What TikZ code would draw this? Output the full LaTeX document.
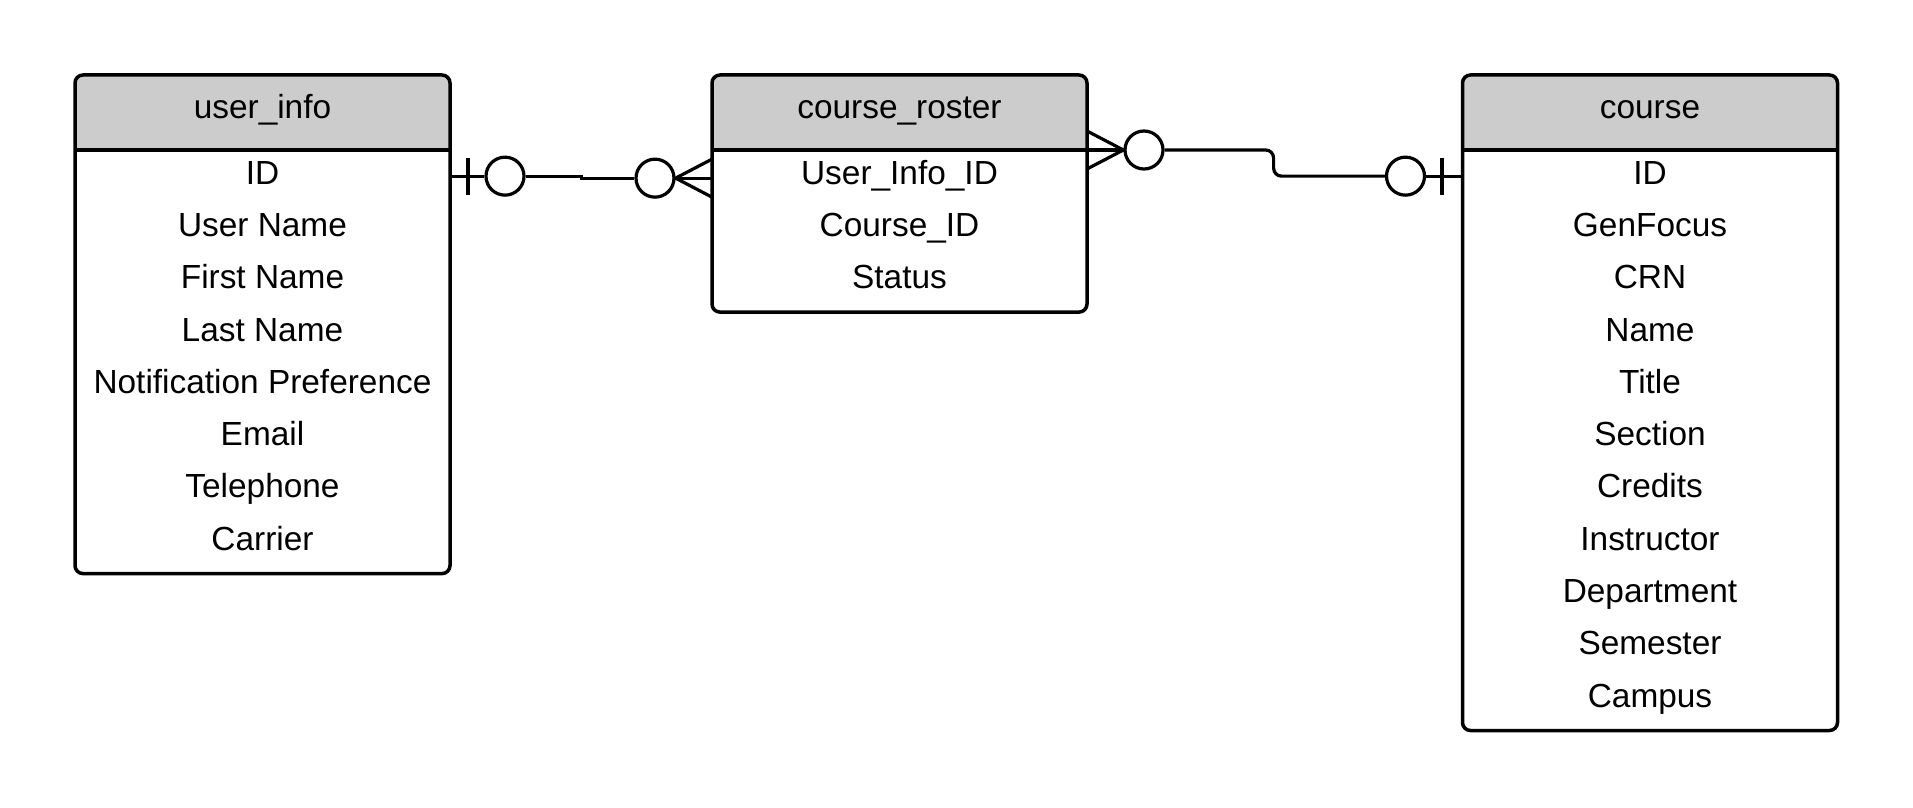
\documentclass[tikz,border=0pt]{standalone}
\usepackage{fontspec}
\setmainfont{Liberation Sans}
\usetikzlibrary{backgrounds}
\definecolor{headgray}{RGB}{204,204,204}

\begin{document}
\begin{tikzpicture}[
      x=0.5pt, y=-0.5pt,
      entity head/.style={
         rectangle,
         minimum width=187.5pt,
         minimum height=37.5pt,
         inner sep=0pt,
         font=\fontsize{16.7}{20}\selectfont,
         text height=12pt,
         text depth=5.9pt
      },
      attribute/.style={
         entity head,
         minimum height=26.15pt,
         text depth=4pt
      },
      entity/.style={
         matrix,
         inner sep=0pt,
         outer sep=0pt,
         row sep=0pt,
         anchor=north
      },
      entity line/.style={draw=black, line width=1.75pt},
      relation/.style={draw=black, line width=1.6pt},
      optional/.style={
         circle,
         draw=black,
         line width=1.6pt,
         inner sep=0pt,
         minimum size=19pt
      }
    ]
    \useasboundingbox (0,0) rectangle (1913,808);
    \matrix (userinfo) [entity] at (262.5,75) {
\node (ui0) [entity head] {user\_info}; \\
\node (ui1) [attribute] {ID}; \\
\node (ui2) [attribute] {User Name}; \\
\node (ui3) [attribute] {First Name}; \\
\node (ui4) [attribute] {Last Name}; \\
\node (ui5) [attribute] {Notification Preference}; \\
\node (ui6) [attribute] {Email}; \\
\node (ui7) [attribute] {Telephone}; \\
\node (ui8) [attribute] {Carrier}; \\
    };
    \matrix (roster) [entity] at (899.5,75) {
\node (cr0) [entity head] {course\_roster}; \\
\node (cr1) [attribute] {User\_Info\_ID}; \\
\node (cr2) [attribute] {Course\_ID}; \\
\node (cr3) [attribute] {Status}; \\
    };
    \matrix (course) [entity] at (1650,75) {
\node (co0) [entity head] {course}; \\
\node (co1) [attribute] {ID}; \\
\node (co2) [attribute] {GenFocus}; \\
\node (co3) [attribute] {CRN}; \\
\node (co4) [attribute] {Name}; \\
\node (co5) [attribute] {Title}; \\
\node (co6) [attribute] {Section}; \\
\node (co7) [attribute] {Credits}; \\
\node (co8) [attribute] {Instructor}; \\
\node (co9) [attribute] {Department}; \\
\node (co10) [attribute] {Semester}; \\
\node (co11) [attribute] {Campus}; \\
    };
  % header fill and table frames
  \foreach \h/\l in {ui0/ui8, cr0/cr3, co0/co11} {
    \begin{scope}[on background layer]
      \fill[headgray] (\h.south west) -- ([yshift=-4pt]\h.north west)
        arc[start angle=180, end angle=90, radius=4pt]
        -- ([xshift=-4pt]\h.north east)
        arc[start angle=90, end angle=0, radius=4pt]
        -- (\h.south east) -- cycle;
    \end{scope}
    \draw[entity line] (\h.south west) -- (\h.south east);
    \draw[entity line, rounded corners=4pt] (\h.north west) rectangle ([yshift=-2.6pt]\l.south east);
  }
  % user_info -- course_roster
  \node (o1) [optional] at ([xshift=27.5pt]ui1.east) {};
  \coordinate (b1) at ([xshift=9pt]ui1.east);
  \draw[relation] (ui1.east) -- (o1);
  \draw[relation] ([yshift=9.25pt]b1) -- ([yshift=-9.25pt]b1);
  \node (o2) [optional] at ([xshift=-28.5pt,yshift=-1pt]cr1.west) {};
  \coordinate (f2) at (cr1.west |- o2.east);
  \draw[relation] (o1.east) -- ++(28pt,0) |- (o2.west);
  \draw[relation] (o2.east) -- (f2);
  \draw[relation] ([yshift=9.5pt]f2) -- (o2.east) -- ([yshift=-9.5pt]f2);
  % course_roster -- course
  \coordinate (f3) at (cr0.south east);
  \node (o3) [optional] at ([xshift=28.5pt]f3) {};
  \draw[relation] (f3) -- (o3.west);
  \draw[relation] ([yshift=9.5pt]f3) -- (o3.west) -- ([yshift=-9.5pt]f3);
  \node (o4) [optional] at ([xshift=-28.5pt]co1.west) {};
  \coordinate (b4) at ([xshift=-10.25pt]co1.west);
  \draw[relation, rounded corners=4pt] (o3.east) -- ++(54.5pt,0) |- (o4.west);
  \draw[relation] (o4) -- (co1.west);
  \draw[relation] ([yshift=9.25pt]b4) -- ([yshift=-9.25pt]b4);
\end{tikzpicture}
\end{document}
